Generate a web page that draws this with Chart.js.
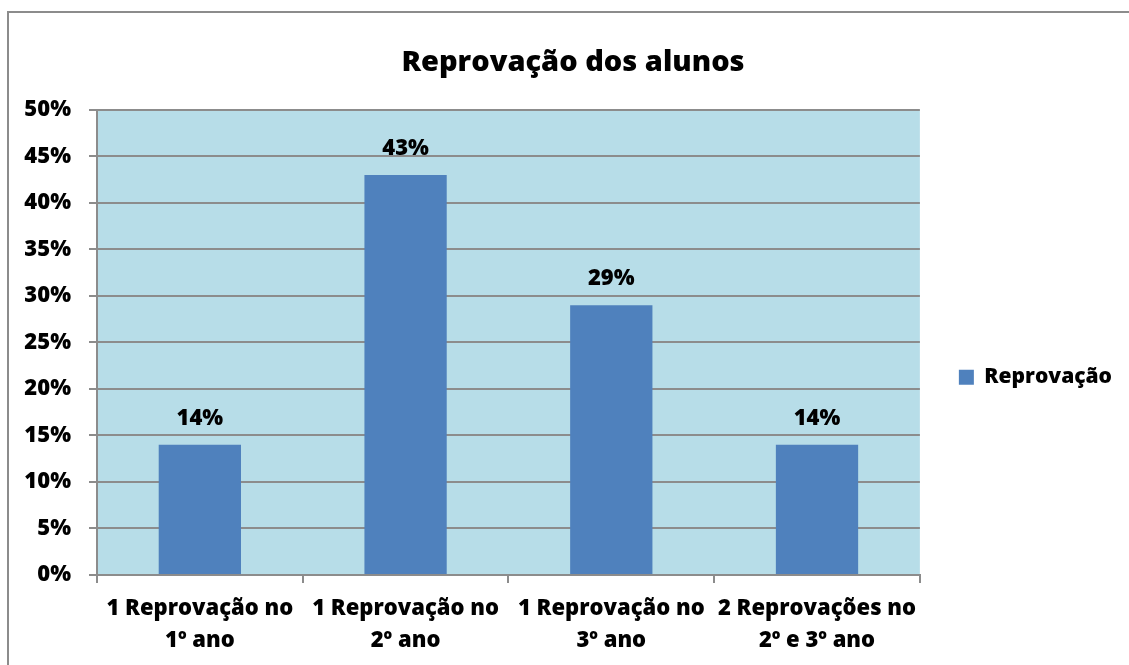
<!DOCTYPE html>
<html>
<head>
<meta charset="utf-8">
<script src="https://cdn.jsdelivr.net/npm/chart.js@4.4.0/dist/chart.umd.min.js"></script>
<style>
  body { margin: 0; background: #fff; }
  #wrap { width: 1129px; height: 665px; position: relative; }
</style>
</head>
<body>
<div id="wrap"><canvas id="myChart"></canvas></div>
<script>
// data
const categories = [
    ['1 Reprovação no', '1º ano'],
    ['1 Reprovação no', '2º ano'],
    ['1 Reprovação no', '3º ano'],
    ['2 Reprovações no', '2º e 3º ano']
];
const seriesName = 'Reprovação';
const reprovacao = [14, 43, 29, 14];
const yMax = 50;
const yStep = 5;

const FONT = '"Open Sans", sans-serif';
const gridGrey = '#8c8c8c';

// plot background + outer frame
const backdrop = {
    id: 'backdrop',
    beforeDraw(chart) {
        const { ctx, chartArea } = chart;
        ctx.save();
        ctx.fillStyle = '#b7dde8';
        ctx.fillRect(chartArea.left, chartArea.top, chartArea.right - chartArea.left, chartArea.bottom - chartArea.top);
        ctx.strokeStyle = '#8c8c8c';
        ctx.lineWidth = 2;
        ctx.strokeRect(8, 12, 1200, 800);
        ctx.restore();
    }
};

// value labels over the bars
const barLabels = {
    id: 'barLabels',
    afterDatasetsDraw(chart) {
        const { ctx } = chart;
        const meta = chart.getDatasetMeta(0);
        ctx.save();
        ctx.fillStyle = '#000';
        ctx.font = '800 22px ' + FONT;
        ctx.textAlign = 'center';
        ctx.textBaseline = 'bottom';
        meta.data.forEach(function(bar, i) {
            ctx.fillText(chart.data.datasets[0].data[i] + '%', bar.x, bar.y - 15);
        });
        ctx.restore();
    }
};

var ctx = document.getElementById('myChart').getContext('2d');
var myChart = new Chart(ctx, {
    type: 'bar',
    data: {
        labels: categories,
        datasets: [{
            label: seriesName,
            data: reprovacao,
            backgroundColor: '#4f81bd',
            borderWidth: 0,
            categoryPercentage: 1,
            barPercentage: 0.4
        }]
    },
    plugins: [backdrop, barLabels],
    options: {
        responsive: true,
        maintainAspectRatio: false,
        animation: false,
        layout: { padding: { top: 45, left: 24, right: 7, bottom: 10 } },
        plugins: {
            title: {
                display: true,
                text: 'Reprovação dos alunos',
                color: '#000',
                font: { family: FONT, size: 29, weight: 800, lineHeight: 1.2 },
                padding: { top: 0, bottom: 30 }
            },
            legend: {
                position: 'right',
                title: { display: true, text: ' ', font: { size: 12 }, padding: { top: 40, bottom: 0 } },
                labels: {
                    color: '#000',
                    font: { family: FONT, size: 21, weight: 800 },
                    boxWidth: 15,
                    boxHeight: 15,
                    padding: 39
                }
            },
            tooltip: { enabled: false }
        },
        scales: {
            y: {
                min: 0,
                max: yMax,
                ticks: {
                    stepSize: yStep,
                    color: '#000',
                    font: { family: FONT, size: 22, weight: 800 },
                    padding: 18,
                    callback: function(v) { return v + '%'; }
                },
                grid: { color: gridGrey, lineWidth: 2, tickLength: 8 },
                border: { display: true, color: gridGrey, width: 2 },
                afterFit: function(scale) { scale.width = 97 - 24; }
            },
            x: {
                ticks: {
                    color: '#000',
                    font: { family: FONT, size: 22, weight: 800, lineHeight: 1.45 },
                    padding: 10,
                    maxRotation: 0
                },
                grid: { offset: true, drawOnChartArea: false, color: gridGrey, lineWidth: 2, tickLength: 8 },
                border: { display: true, color: gridGrey, width: 2 },
                afterFit: function(scale) { scale.height = 665 - 575 - 10; }
            }
        }
    }
});
</script>
</body>
</html>
